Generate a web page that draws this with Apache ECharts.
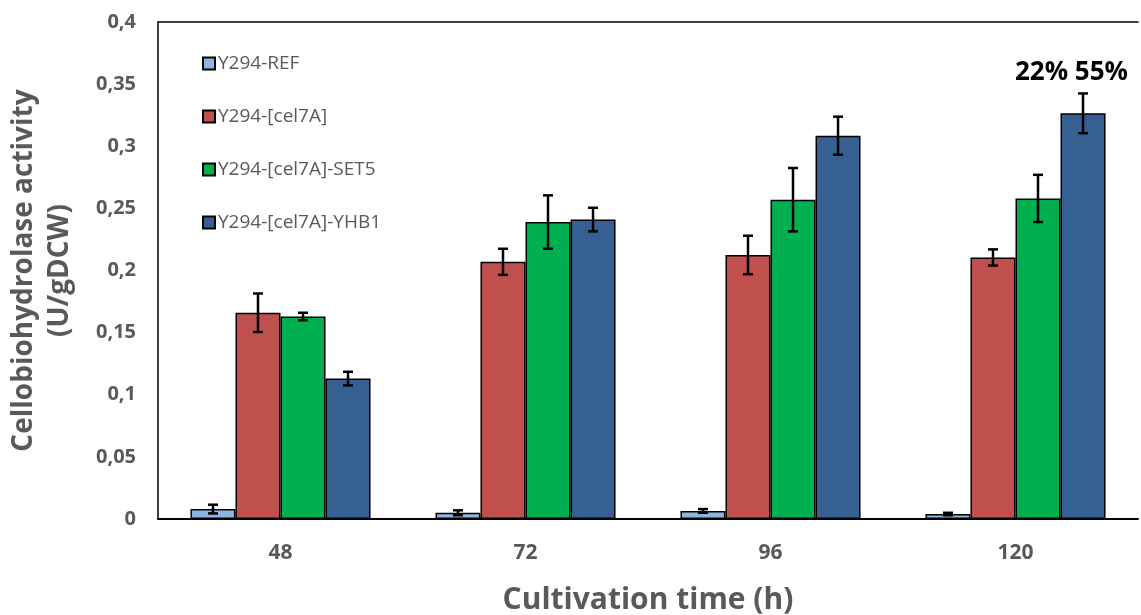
<!DOCTYPE html>
<html>
<head>
<meta charset="utf-8">
<script src="https://cdn.jsdelivr.net/npm/echarts@6/dist/echarts.min.js"></script>
<style>
  html, body { margin: 0; padding: 0; background: #fff; }
  #chart { width: 1141px; height: 615px; }
</style>
</head>
<body>
<div id="chart"></div>
<script>
// cultivation times
const categories = ['48', '72', '96', '120'];
const seriesNames = ['Y294-REF', 'Y294-[cel7A]', 'Y294-[cel7A]-SET5', 'Y294-[cel7A]-YHB1'];
const colors = ['#8DB4E2', '#C0504D', '#00B050', '#376092'];

// mean activity (U/gDCW)
const refVals  = [0.008, 0.005, 0.0065, 0.004];
const celVals  = [0.166, 0.207, 0.2125, 0.2105];
const set5Vals = [0.163, 0.239, 0.257, 0.258];
const yhbVals  = [0.113, 0.241, 0.3085, 0.3265];

// error (+/-)
const refErr  = [0.0035, 0.002, 0.0015, 0.001];
const celErr  = [0.0155, 0.0105, 0.0155, 0.0065];
const set5Err = [0.003, 0.0215, 0.0255, 0.019];
const yhbErr  = [0.0055, 0.0095, 0.0153, 0.016];

const yTicks = ['0', '0,05', '0,1', '0,15', '0,2', '0,25', '0,3', '0,35', '0,4'];
const annotation = '22% 55%';

const values = [refVals, celVals, set5Vals, yhbVals];
const errors = [refErr, celErr, set5Err, yhbErr];

const font = '"Open Sans", sans-serif';
const gray = '#595959';
const catGap = 0.265;

const chart = echarts.init(document.getElementById('chart'));

function errorSeries(idx) {
  const data = values[idx].map((v, i) => [i, v - errors[idx][i], v + errors[idx][i]]);
  return {
    type: 'custom',
    name: seriesNames[idx] + ' err',
    z: 10,
    data: data,
    renderItem: function (params, api) {
      const band = api.size([1, 0])[0];
      const barW = band * (1 - catGap) / 4;
      const x = api.coord([api.value(0), 0])[0] + (idx - 1.5) * barW;
      const lo = api.coord([api.value(0), api.value(1)])[1];
      const hi = api.coord([api.value(0), api.value(2)])[1];
      const cap = 5;
      const style = { stroke: '#000', lineWidth: 2.5 };
      return {
        type: 'group',
        children: [
          { type: 'line', shape: { x1: x, y1: lo, x2: x, y2: hi }, style: style },
          { type: 'line', shape: { x1: x - cap, y1: lo, x2: x + cap, y2: lo }, style: style },
          { type: 'line', shape: { x1: x - cap, y1: hi, x2: x + cap, y2: hi }, style: style }
        ]
      };
    }
  };
}

const barSeries = seriesNames.map((name, idx) => ({
  type: 'bar',
  name: name,
  data: values[idx],
  barGap: '0%',
  barCategoryGap: (catGap * 100) + '%',
  itemStyle: { color: colors[idx], borderColor: '#000', borderWidth: 1.5 }
}));

const option = {
  animation: false,
  textStyle: { fontFamily: font },
  grid: { left: 158, right: 3, top: 22, bottom: 96, containLabel: false, outerBoundsMode: 'none' },
  legend: {
    data: seriesNames,
    orient: 'vertical',
    left: 197,
    top: 49,
    itemGap: 34,
    itemWidth: 12,
    itemHeight: 12,
    icon: 'rect',
    textStyle: { color: gray, fontSize: 19, fontFamily: font, padding: [0, 0, 0, -2] }
  },
  xAxis: [{
    type: 'category',
    data: categories,
    name: 'Cultivation time (h)',
    nameLocation: 'middle',
    nameGap: 66,
    nameTextStyle: { color: gray, fontSize: 30, fontWeight: 'bold', fontFamily: font },
    axisLine: { lineStyle: { color: '#000', width: 2 } },
    axisTick: { show: false },
    axisLabel: { color: gray, fontSize: 21, fontWeight: 'bold', margin: 24 }
  }, {
    type: 'category',
    data: categories,
    position: 'top',
    axisLine: { lineStyle: { color: '#000', width: 1.5 } },
    axisTick: { show: false },
    axisLabel: { show: false }
  }],
  yAxis: {
    type: 'value',
    min: 0,
    max: 0.4,
    interval: 0.05,
    name: 'Cellobiohydrolase activity\n(U/gDCW)',
    nameLocation: 'middle',
    nameGap: 80,
    nameTextStyle: { color: gray, fontSize: 28, fontWeight: 'bold', lineHeight: 36, fontFamily: font },
    axisLine: { show: true, lineStyle: { color: '#000', width: 1.5 } },
    axisTick: { show: false },
    splitLine: { show: false },
    axisLabel: {
      color: gray,
      fontSize: 20,
      fontWeight: 'bold',
      margin: 22,
      formatter: (v) => yTicks[Math.round(v / 0.05)]
    }
  },
  graphic: [{
    type: 'text',
    right: 13,
    top: 60,
    style: { text: annotation, fill: '#000', font: 'bold 26px ' + font }
  }],
  series: barSeries.concat(seriesNames.map((n, i) => errorSeries(i)))
};

chart.setOption(option);
</script>
</body>
</html>
